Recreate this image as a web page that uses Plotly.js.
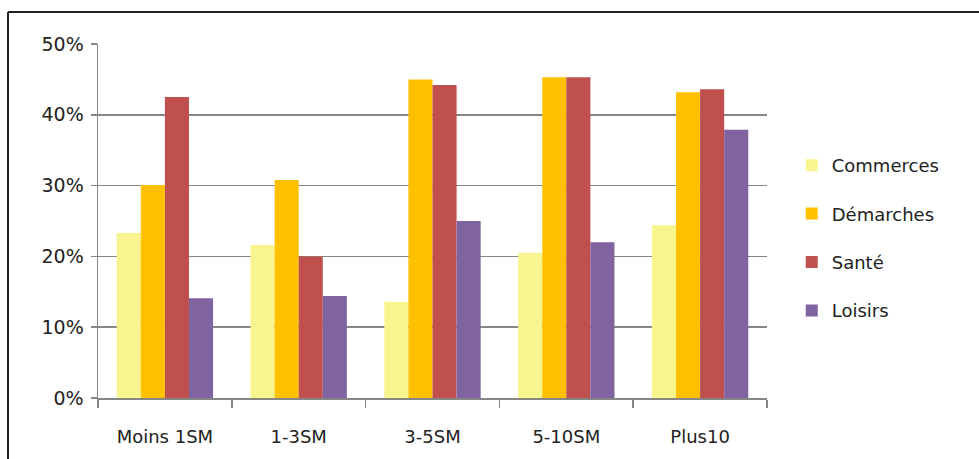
<!DOCTYPE html>
<html>
<head>
<meta charset="utf-8">
<script src="https://cdn.plot.ly/plotly-3.0.1.min.js"></script>
<style>
html,body{margin:0;padding:0;background:#fff;}
#chart{width:979px;height:459px;}
</style>
</head>
<body>
<div id="chart"></div>
<script>
const categories = ["Moins 1SM", "1-3SM", "3-5SM", "5-10SM", "Plus10"];
const commerces = [23.3, 21.6, 13.6, 20.5, 24.4];
const demarches = [30.1, 30.8, 45.0, 45.3, 43.2];
const sante = [42.5, 20.0, 44.2, 45.3, 43.6];
const loisirs = [14.1, 14.4, 25.0, 22.0, 37.9];
const seriesNames = ["Commerces", "Démarches", "Santé", "Loisirs"];
const yTickVals = [0, 10, 20, 30, 40, 50];
const yTickText = ["0%", "10%", "20%", "30%", "40%", "50%"];

const colors = ["#F8F48E", "#FFC000", "#C0504D", "#8064A2"];
const values = [commerces, demarches, sante, loisirs];

const traces = values.map((v, i) => ({
  type: "bar",
  name: seriesNames[i],
  x: categories,
  y: v,
  marker: {color: colors[i], line: {width: 0}},
  legendgroup: "g" + i,
  hoverinfo: "none"
}));

const font = {family: "DejaVu Sans, Verdana, sans-serif", size: 18, color: "#222"};

const layout = {
  width: 979, height: 459,
  margin: {l: 98, r: 212, t: 44, b: 61},
  paper_bgcolor: "#fff",
  plot_bgcolor: "#fff",
  font: font,
  barmode: "group",
  bargap: 0.28,
  bargroupgap: 0,
  showlegend: true,
  legend: {
    x: 1.037, xanchor: "left",
    y: 0.452, yanchor: "middle",
    traceorder: "grouped",
    tracegroupgap: 22,
    font: {family: font.family, size: 18, color: "#222"},
    itemclick: false
  },
  xaxis: {
    type: "category",
    showline: true, linecolor: "#868686", linewidth: 1.5,
    ticks: "outside", tickson: "boundaries", ticklen: 8, tickcolor: "#868686", tickwidth: 1.5,
    showgrid: false, zeroline: false,
    tickfont: {family: font.family, size: 18, color: "#222"},
    ticklabelstandoff: 22
  },
  yaxis: {
    range: [0, 50],
    tickvals: yTickVals, ticktext: yTickText,
    showline: true, linecolor: "#868686", linewidth: 1.5,
    ticks: "outside", ticklen: 6, tickcolor: "#868686", tickwidth: 1.5,
    showgrid: true, gridcolor: "#868686", gridwidth: 1.5,
    zeroline: false,
    tickfont: {family: font.family, size: 19, color: "#222"},
    ticklabelstandoff: 3
  },
  shapes: [
    {type: "line", xref: "paper", yref: "paper", x0: -0.1345, x1: 1.4, y0: 1.0904, y1: 1.0904,
     line: {color: "#222", width: 2}},
    {type: "line", xref: "paper", yref: "paper", x0: -0.1345, x1: -0.1345, y0: 1.0904, y1: -0.25,
     line: {color: "#222", width: 2}}
  ]
};

Plotly.newPlot("chart", traces, layout, {displayModeBar: false, staticPlot: true});
</script>
</body>
</html>
